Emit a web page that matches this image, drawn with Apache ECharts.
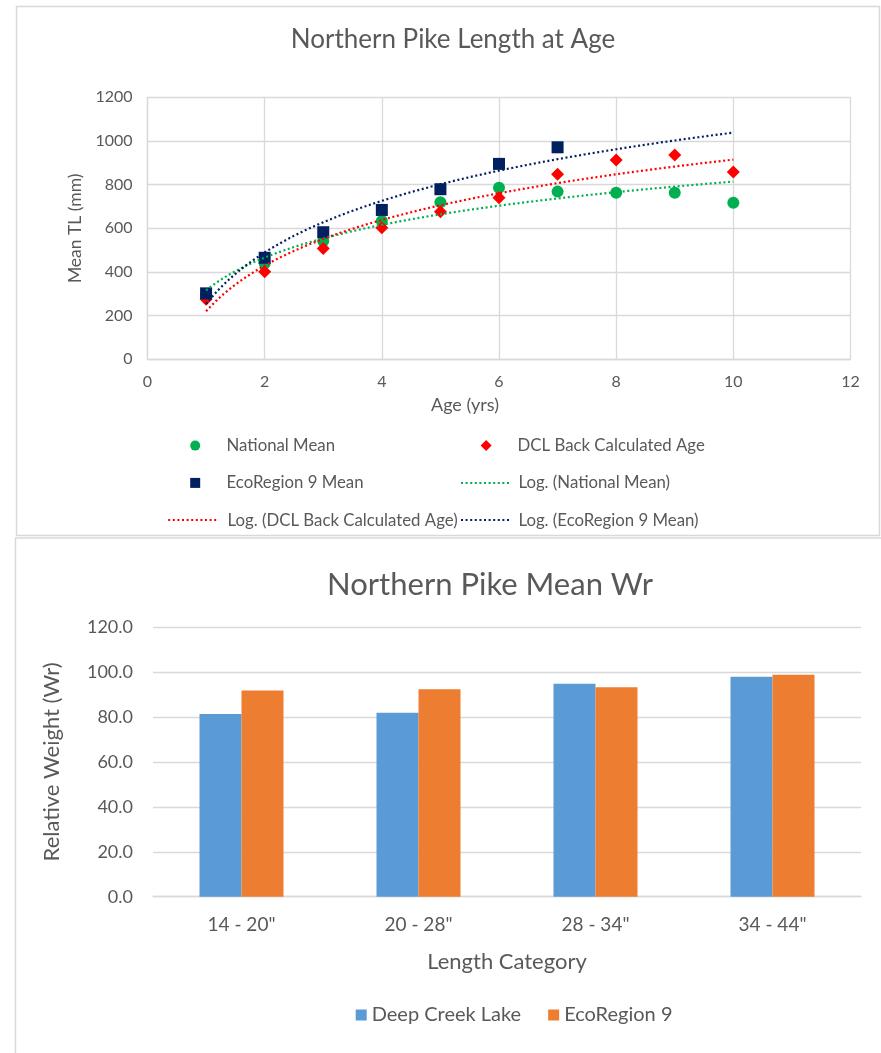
<!DOCTYPE html>
<html>
<head>
<meta charset="utf-8">
<script src="https://cdn.jsdelivr.net/npm/echarts@6/dist/echarts.min.js"></script>
<style>
html,body{margin:0;padding:0;background:#fff;}
#main{width:881px;height:1053px;}
</style>
</head>
<body>
<div id="main"></div>
<script>
// ---- Chart 1: Northern Pike Length at Age ----
const ages = [1, 2, 3, 4, 5, 6, 7, 8, 9, 10];
const ecoAges = [1, 2, 3, 4, 5, 6, 7];
const nationalMean = [295, 440, 542, 633, 719, 786, 768, 763, 763, 717];
const dclBackCalc = [275, 401, 507, 603, 676, 740, 847, 913, 936, 858];
const ecoRegionMean = [302, 465, 582, 684, 779, 895, 971];
const trendRange = [1, 10]; // x-range of the logarithmic trend lines (Eco forecast forward to 10)
const xTicks1 = [0, 2, 4, 6, 8, 10, 12];
const yTicks1 = [0, 200, 400, 600, 800, 1000, 1200];

// ---- Chart 2: Northern Pike Mean Wr ----
const lengthCategories = ['14 - 20"', '20 - 28"', '28 - 34"', '34 - 44"'];
const deepCreekLake = [81.3, 81.9, 94.7, 97.9];
const ecoRegion9 = [91.7, 92.3, 93.2, 98.8];
const yTicks2 = [0, 20, 40, 60, 80, 100, 120];

// Excel-style logarithmic trendline: least squares fit of y = a*ln(x) + b
function logFit(xs, ys) {
  const n = xs.length;
  const lx = xs.map(Math.log);
  const mx = lx.reduce((s, v) => s + v, 0) / n;
  const my = ys.reduce((s, v) => s + v, 0) / n;
  let sxy = 0, sxx = 0;
  for (let i = 0; i < n; i++) { sxy += (lx[i] - mx) * (ys[i] - my); sxx += (lx[i] - mx) * (lx[i] - mx); }
  const a = sxy / sxx, b = my - a * mx;
  const pts = [];
  for (let k = 0; k <= 90; k++) {
    const x = trendRange[0] + (trendRange[1] - trendRange[0]) * k / 90;
    pts.push([x, a * Math.log(x) + b]);
  }
  return pts;
}
const pair = (xs, ys) => xs.map((x, i) => [x, ys[i]]);

const FONT = 'Lato';
const TXT = '#595959';
const GRID = '#D9D9D9';
const C_NAT = '#00B050', C_DCL = '#FF0000', C_ECO = '#002060';
const C_BLUE = '#5B9BD5', C_ORANGE = '#ED7D31';

const chart = echarts.init(document.getElementById('main'));

const LEG_FS = 16.8;
function legendAt(name, left, centerY, w, h, pad, hideSymbol) {
  const l = {
    data: [name], left: left, top: centerY - LEG_FS / 2, itemWidth: w, itemHeight: h,
    padding: 0, selectedMode: false,
    textStyle: { fontFamily: FONT, fontSize: LEG_FS, color: TXT, padding: [0, 0, 0, pad || 0] }
  };
  if (hideSymbol) l.itemStyle = { opacity: 0 };
  return l;
}

const option = {
  backgroundColor: '#fff',
  animation: false,
  textStyle: { fontFamily: FONT },
  graphic: [
    { type: 'rect', shape: { x: 16.5, y: 6.5, width: 863, height: 529 }, style: { fill: 'none', stroke: GRID, lineWidth: 1.5 }, silent: true, z: -10 },
    { type: 'rect', shape: { x: 15.5, y: 538, width: 880, height: 530 }, style: { fill: 'none', stroke: GRID, lineWidth: 1.5 }, silent: true, z: -10 }
  ],
  title: [
    { text: 'Northern Pike Length at Age', left: 453, top: 27, padding: 0, textAlign: 'center',
      textStyle: { fontFamily: FONT, fontSize: 26, fontWeight: 'normal', color: TXT } },
    { text: 'Northern Pike Mean Wr', left: 490, top: 569, padding: 0, textAlign: 'center',
      textStyle: { fontFamily: FONT, fontSize: 31, fontWeight: 'normal', color: TXT } }
  ],
  legend: [
    legendAt('National Mean', 190.2, 445.5, 10, 10, 21.3),
    legendAt('DCL Back Calculated Age', 480.6, 445.5, 11, 11, 21),
    legendAt('EcoRegion 9 Mean', 190.2, 482.8, 10, 10, 21.3),
    legendAt('Log. (National Mean)', 460, 482.8, 48, 10, 4.4, true),
    legendAt('Log. (DCL Back Calculated Age)', 167.2, 520, 48, 10, 6.3, true),
    legendAt('Log. (EcoRegion 9 Mean)', 460, 520, 48, 10, 4.4, true),
    { data: ['Deep Creek Lake', 'EcoRegion 9'], left: 355.7, top: 1005, itemWidth: 11, itemHeight: 11,
      itemGap: 27, padding: 0, selectedMode: false, icon: 'rect',
      textStyle: { fontFamily: FONT, fontSize: 20, color: TXT } }
  ],
  grid: [
    { left: 147.5, right: 30.5, top: 97.3, bottom: 693.7 },
    { left: 153, right: 20, top: 627, bottom: 156.3 }
  ],
  xAxis: [
    { type: 'value', gridIndex: 0, min: xTicks1[0], max: xTicks1[xTicks1.length - 1], interval: 2,
      name: 'Age (yrs)', nameLocation: 'middle', nameGap: 37,
      nameTextStyle: { fontFamily: FONT, fontSize: 18, color: TXT, padding: [0, 68, 0, 0] },
      axisLine: { lineStyle: { color: GRID, width: 1.3 } }, axisTick: { show: false },
      axisLabel: { fontFamily: FONT, fontSize: 16, color: TXT, margin: 15, formatter: v => String(v) },
      splitLine: { show: true, lineStyle: { color: GRID, width: 1.3 } } },
    { type: 'category', gridIndex: 1, data: lengthCategories,
      name: 'Length Category', nameLocation: 'middle', nameGap: 54,
      nameTextStyle: { fontFamily: FONT, fontSize: 22, color: TXT },
      axisLine: { lineStyle: { color: GRID, width: 1.3 } }, axisTick: { show: false },
      axisLabel: { fontFamily: FONT, fontSize: 19, color: TXT, margin: 19 },
      splitLine: { show: false } }
  ],
  yAxis: [
    { type: 'value', gridIndex: 0, min: yTicks1[0], max: yTicks1[yTicks1.length - 1], interval: 200,
      name: 'Mean TL (mm)', nameLocation: 'middle', nameGap: 62,
      nameTextStyle: { fontFamily: FONT, fontSize: 17.5, color: TXT },
      axisLine: { show: true, lineStyle: { color: GRID, width: 1.3 } }, axisTick: { show: false },
      axisLabel: { fontFamily: FONT, fontSize: 16, color: TXT, margin: 15, formatter: v => String(v) },
      splitLine: { show: true, lineStyle: { color: GRID, width: 1.3 } } },
    { type: 'value', gridIndex: 1, min: yTicks2[0], max: yTicks2[yTicks2.length - 1], interval: 20,
      name: 'Relative Weight (Wr)', nameLocation: 'middle', nameGap: 90,
      nameTextStyle: { fontFamily: FONT, fontSize: 22, color: TXT },
      axisLine: { show: false }, axisTick: { show: false },
      axisLabel: { fontFamily: FONT, fontSize: 18, color: TXT, margin: 20, formatter: v => v.toFixed(1) },
      splitLine: { show: true, lineStyle: { color: GRID, width: 1.3 } } }
  ],
  series: [
    { name: 'National Mean', type: 'scatter', xAxisIndex: 0, yAxisIndex: 0, symbol: 'circle', symbolSize: 12,
      itemStyle: { color: C_NAT, opacity: 1 }, data: pair(ages, nationalMean) },
    { name: 'DCL Back Calculated Age', type: 'scatter', xAxisIndex: 0, yAxisIndex: 0, symbol: 'diamond', symbolSize: 13,
      itemStyle: { color: C_DCL, opacity: 1 }, data: pair(ages, dclBackCalc) },
    { name: 'EcoRegion 9 Mean', type: 'scatter', xAxisIndex: 0, yAxisIndex: 0, symbol: 'rect', symbolSize: 12,
      itemStyle: { color: C_ECO, opacity: 1 }, data: pair(ecoAges, ecoRegionMean) },
    { name: 'Log. (National Mean)', type: 'line', xAxisIndex: 0, yAxisIndex: 0, showSymbol: false, symbol: 'none',
      itemStyle: { color: C_NAT }, lineStyle: { color: C_NAT, width: 2.2, type: [2, 2.6] }, data: logFit(ages, nationalMean) },
    { name: 'Log. (DCL Back Calculated Age)', type: 'line', xAxisIndex: 0, yAxisIndex: 0, showSymbol: false, symbol: 'none',
      itemStyle: { color: C_DCL }, lineStyle: { color: C_DCL, width: 2.2, type: [2, 2.6] }, data: logFit(ages, dclBackCalc) },
    { name: 'Log. (EcoRegion 9 Mean)', type: 'line', xAxisIndex: 0, yAxisIndex: 0, showSymbol: false, symbol: 'none',
      itemStyle: { color: C_ECO }, lineStyle: { color: C_ECO, width: 2.2, type: [2, 2.6] }, data: logFit(ecoAges, ecoRegionMean) },
    { name: 'Deep Creek Lake', type: 'bar', xAxisIndex: 1, yAxisIndex: 1, barWidth: 42, barGap: '0%',
      itemStyle: { color: C_BLUE }, data: deepCreekLake },
    { name: 'EcoRegion 9', type: 'bar', xAxisIndex: 1, yAxisIndex: 1, barWidth: 42, barGap: '0%',
      itemStyle: { color: C_ORANGE }, data: ecoRegion9 }
  ]
};
chart.setOption(option);
</script>
</body>
</html>
